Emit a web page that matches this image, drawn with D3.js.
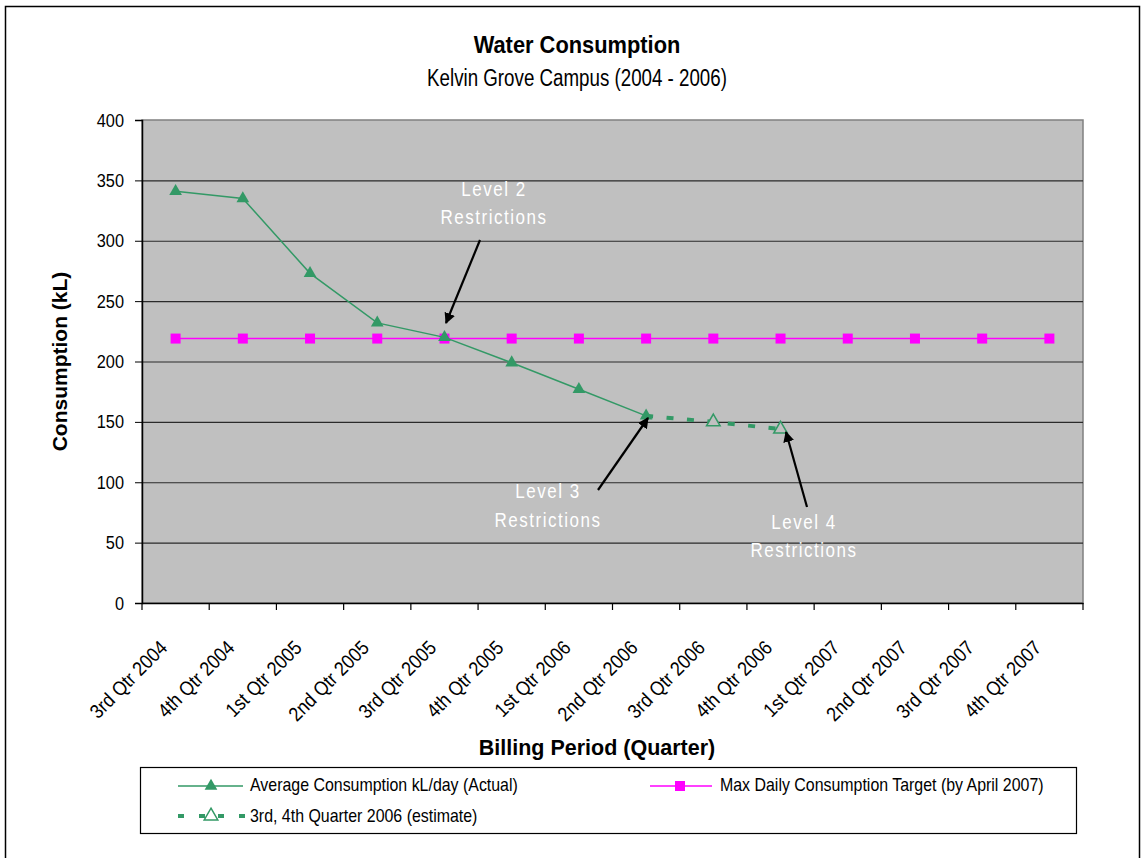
<!DOCTYPE html>
<html><head><meta charset="utf-8">
<script src="https://cdn.jsdelivr.net/npm/d3@7"></script>
<style>
body{margin:0;background:#fff;}
svg{display:block;font-family:"Liberation Sans Narrow","Arial Narrow","Liberation Sans",Arial,sans-serif;}
</style></head>
<body><svg id="c" width="1145" height="858"></svg>
<script>
const categories = ["3rd Qtr 2004","4th Qtr 2004","1st Qtr 2005","2nd Qtr 2005","3rd Qtr 2005","4th Qtr 2005","1st Qtr 2006","2nd Qtr 2006","3rd Qtr 2006","4th Qtr 2006","1st Qtr 2007","2nd Qtr 2007","3rd Qtr 2007","4th Qtr 2007"];
const actualCats = ["3rd Qtr 2004","4th Qtr 2004","1st Qtr 2005","2nd Qtr 2005","3rd Qtr 2005","4th Qtr 2005","1st Qtr 2006","2nd Qtr 2006"];
const actualValues = [341, 335, 273, 232, 220, 199, 177, 155];
const estimateCats = ["2nd Qtr 2006","3rd Qtr 2006","4th Qtr 2006"];
const estimateValues = [155, 150, 144];
const targetValues = [219,219,219,219,219,219,219,219,219,219,219,219,219,219];
const yTicks = [0,50,100,150,200,250,300,350,400];
const annotationLines = [["Level 2","Restrictions"],["Level 3","Restrictions"],["Level 4","Restrictions"]];

(function(){
const svg = d3.select("#c");
const pL = 142, pR = 1083, pT = 120, pB = 603;
const green = "#339966", magenta = "#FF00FF";

function T(g, x, y, str, o){
  o = o || {};
  const gg = g.append("g").attr("transform",`translate(${x},${y}) rotate(${o.rotate||0}) scale(${o.sx||1},1)`);
  const t = gg.append("text").attr("x",0).attr("y",0)
    .attr("text-anchor",o.anchor||"start").attr("font-size",o.size||16)
    .attr("font-weight",o.weight||"normal").attr("fill",o.fill||"#000");
  if(o.ls) t.attr("letter-spacing",o.ls);
  t.text(str);
  return t;
}

svg.append("rect").attr("x",5.5).attr("y",6.5).attr("width",1134).attr("height",870)
  .attr("fill","#fff").attr("stroke","#000").attr("stroke-width",1.5);

const x = d3.scaleBand().domain(categories).range([pL,pR]);
const y = d3.scaleLinear().domain([0,400]).range([pB,pT]);
const cx = c => x(c) + x.bandwidth()/2;

svg.append("rect").attr("x",pL).attr("y",pT).attr("width",pR-pL).attr("height",pB-pT)
  .attr("fill","#C0C0C0").attr("stroke","#808080").attr("stroke-width",1.5);

svg.append("g").selectAll("line").data(yTicks.filter(d=>d>0 && d<400)).join("line")
  .attr("x1",pL).attr("x2",pR).attr("y1",d=>y(d)+0.5).attr("y2",d=>y(d)+0.5)
  .attr("stroke","#2a2a2a").attr("stroke-width",1.2);

const yAxis = svg.append("g").attr("transform",`translate(${pL},0)`)
  .call(d3.axisLeft(y).tickValues(yTicks).tickSize(7).tickPadding(11));
yAxis.select(".domain").attr("stroke","#000").attr("stroke-width",1.5);
yAxis.selectAll(".tick line").attr("stroke","#000");
yAxis.selectAll(".tick text").attr("font-size",19).attr("fill","#000").attr("font-family","inherit")
  .attr("x",-18/0.86).attr("transform","scale(0.86,1)");

const xAxis = svg.append("g").attr("transform",`translate(0,${pB})`)
  .call(d3.axisBottom(x).tickSize(0).tickFormat(""));
xAxis.select(".domain").attr("stroke","#000").attr("stroke-width",1.5);
const bounds = categories.map(c=>x(c)).concat([pR]);
svg.append("g").selectAll("line").data(bounds).join("line")
  .attr("x1",d=>d).attr("x2",d=>d).attr("y1",pB).attr("y2",pB+7)
  .attr("stroke","#000").attr("stroke-width",1.2);
const xl = svg.append("g");
categories.forEach(c=>T(xl, cx(c)-7, pB+46, c, {size:20, sx:0.89, anchor:"end", rotate:-45}));

T(svg, 577, 53, "Water Consumption", {size:23, sx:0.95, anchor:"middle", weight:"bold"});
T(svg, 577, 86, "Kelvin Grove Campus (2004 - 2006)", {size:23, sx:0.815, anchor:"middle"});
T(svg, 67, (pT+pB)/2, "Consumption (kL)", {size:21, anchor:"middle", weight:"bold", rotate:-90});
T(svg, 597, 755, "Billing Period (Quarter)", {size:21.5, anchor:"middle", weight:"bold"});

const line = d3.line().x(d=>cx(d[0])).y(d=>y(d[1]));
const targetData = categories.map((c,i)=>[c,targetValues[i]]);
svg.append("path").attr("d",line(targetData)).attr("fill","none").attr("stroke",magenta).attr("stroke-width",1.5);
svg.append("g").selectAll("rect").data(targetData).join("rect")
  .attr("x",d=>cx(d[0])-5).attr("y",d=>y(d[1])-5).attr("width",10).attr("height",10).attr("fill",magenta);

const actualData = actualCats.map((c,i)=>[c,actualValues[i]]);
svg.append("path").attr("d",line(actualData)).attr("fill","none").attr("stroke",green).attr("stroke-width",1.5);
const tri = d3.symbol().type(d3.symbolTriangle).size(70);
const triOpen = d3.symbol().type(d3.symbolTriangle).size(80);
svg.append("g").selectAll("path").data(actualData).join("path")
  .attr("d",tri).attr("transform",d=>`translate(${cx(d[0])},${y(d[1])})`).attr("fill",green);

const estData = estimateCats.map((c,i)=>[c,estimateValues[i]]);
svg.append("path").attr("d",line(estData)).attr("fill","none").attr("stroke",green).attr("stroke-width",4)
  .attr("stroke-dasharray","7,13.5");
svg.append("g").selectAll("path").data(estData.slice(1)).join("path")
  .attr("d",triOpen).attr("transform",d=>`translate(${cx(d[0])},${y(d[1])})`)
  .attr("fill","#C0C0C0").attr("stroke",green).attr("stroke-width",1.5);

const defs = svg.append("defs");
defs.append("marker").attr("id","ah").attr("viewBox","0 0 10 10").attr("refX",9).attr("refY",5)
  .attr("markerWidth",5).attr("markerHeight",5).attr("orient","auto")
  .append("path").attr("d","M0,0 L10,5 L0,10 Z").attr("fill","#000");
const annPos = [
  {tx:494, ty:[196,224], from:[480,240], to:[446,323]},
  {tx:548, ty:[498,527], from:[598,490], to:[648,418]},
  {tx:804, ty:[529,557], from:[807,507], to:[786,432]}
];
annotationLines.forEach((lines,i)=>{
  const p = annPos[i];
  lines.forEach((l,j)=>T(svg, p.tx, p.ty[j], l, {size:20, sx:0.85, anchor:"middle", fill:"#fff", ls:1.8}));
  svg.append("line").attr("x1",p.from[0]).attr("y1",p.from[1]).attr("x2",p.to[0]).attr("y2",p.to[1])
    .attr("stroke","#000").attr("stroke-width",2.2).attr("marker-end","url(#ah)");
});

const lg = svg.append("g");
lg.append("rect").attr("x",140.5).attr("y",767.5).attr("width",936).attr("height",66)
  .attr("fill","#fff").attr("stroke","#000").attr("stroke-width",1.2);
lg.append("line").attr("x1",178).attr("x2",243).attr("y1",786).attr("y2",786).attr("stroke",green).attr("stroke-width",1.5);
lg.append("path").attr("d",tri).attr("transform","translate(211,786)").attr("fill",green);
T(lg, 250, 791, "Average Consumption kL/day (Actual)", {size:18, sx:0.885});
lg.append("line").attr("x1",650).attr("x2",712).attr("y1",786).attr("y2",786).attr("stroke",magenta).attr("stroke-width",1.5);
lg.append("rect").attr("x",675).attr("y",781).attr("width",10).attr("height",10).attr("fill",magenta);
T(lg, 720, 791, "Max Daily Consumption Target (by April 2007)", {size:18, sx:0.885});
[178,199,218,239].forEach(d=>lg.append("rect").attr("x",d).attr("y",814).attr("width",6).attr("height",4).attr("fill",green));
lg.append("path").attr("d",triOpen).attr("transform","translate(211,816)").attr("fill","#fff").attr("stroke",green).attr("stroke-width",1.5);
T(lg, 250, 822, "3rd, 4th Quarter 2006 (estimate)", {size:18, sx:0.885});
})();
</script></body></html>
